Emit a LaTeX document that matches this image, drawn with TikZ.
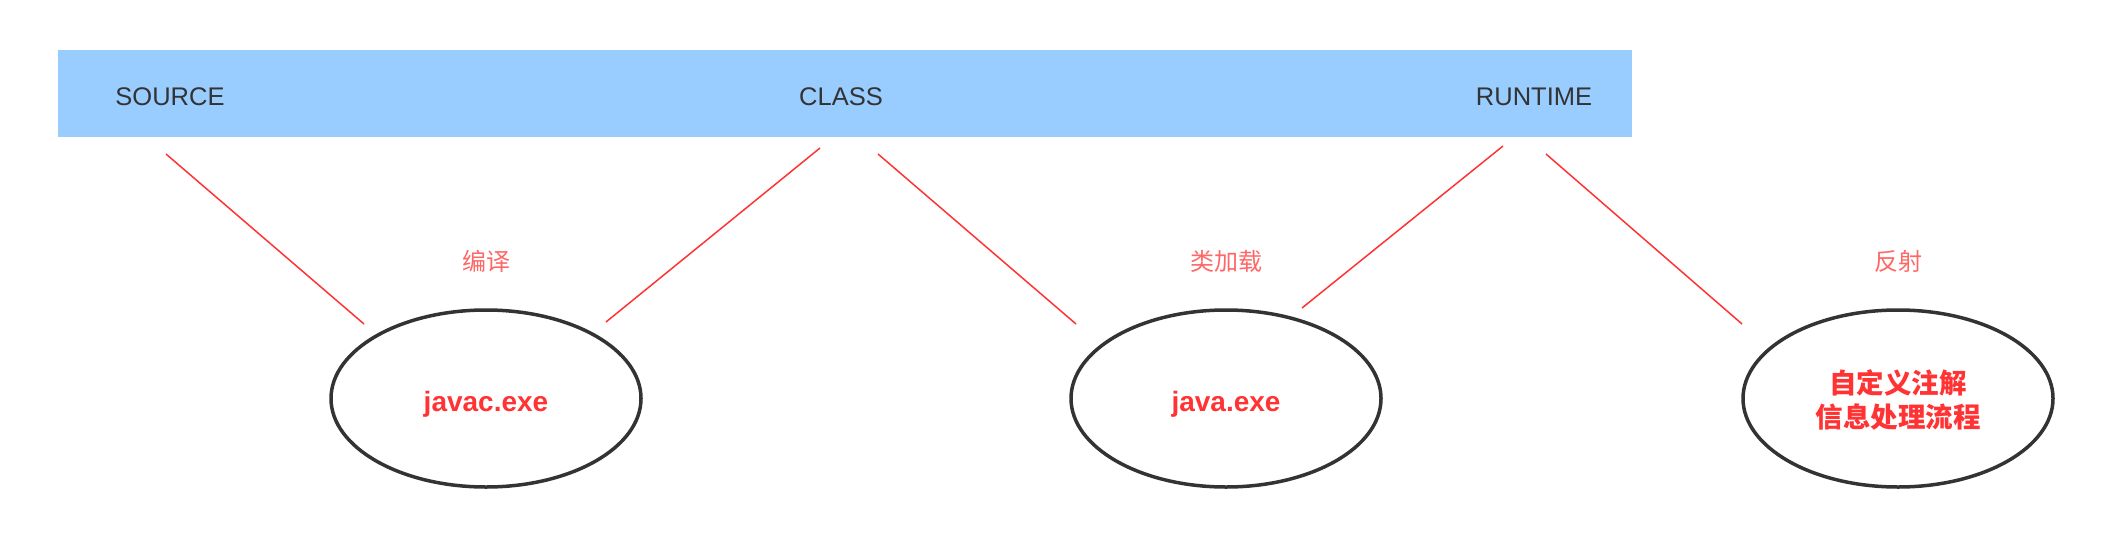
\documentclass[tikz,border=0pt]{standalone}
\usepackage{fontspec}
\setmainfont{Liberation Sans}
\newfontfamily\cjk{Noto Sans CJK SC}
\usetikzlibrary{shapes.geometric}
\definecolor{barblue}{HTML}{99CCFF}
\definecolor{txtgray}{HTML}{333333}
\definecolor{redtxt}{HTML}{FF3333}
\definecolor{redlbl}{HTML}{FF6666}
\definecolor{redline}{HTML}{FF3333}
\definecolor{ringgray}{HTML}{333333}
\tikzset{
  phase/.style={inner sep=0pt, text=txtgray, font=\fontsize{25.5}{30}\selectfont},
  tool/.style={ellipse, draw=ringgray, line width=3.5pt, minimum width=310pt, minimum height=177pt, inner sep=0pt, align=center},
  tooltxt/.style={inner sep=0pt, text=redtxt, font=\fontsize{28}{34}\selectfont\bfseries, align=center},
  stage/.style={inner sep=0pt, text=redlbl, font=\cjk\fontsize{24}{28}\selectfont},
  link/.style={draw=redline, line width=1.5pt}
}
\begin{document}
\begin{tikzpicture}[x=1pt,y=-1pt]
\useasboundingbox (0,0) rectangle (2108,538);
% bar
\node[fill=barblue, inner sep=0pt, minimum width=1574pt, minimum height=87pt, anchor=north west] (bar) at (58,50) {};
\node[phase] (source) at (170,97) {SOURCE};
\node[phase] (class) at (841,97) {CLASS};
\node[phase] (runtime) at (1534,97) {RUNTIME};
% ellipses
\node[tool] (javac) at (486,398.5) {};
\node[tool] (java) at (1226,398.5) {};
\node[tool] (proc) at (1898,398.5) {};
\node[tooltxt, anchor=base] (javactxt) at (486,411) {javac.exe};
\node[tooltxt, anchor=base] (javatxt) at (1226,411) {java.exe};
\node[tooltxt, font=\cjk\fontsize{27.5}{34}\selectfont\bfseries] (proctxt) at (1898,400) {自定义注解\\信息处理流程};
% stage labels
\node[stage] (compile) at (486,261) {编译};
\node[stage] (load) at (1226,261) {类加载};
\node[stage] (reflect) at (1898,261) {反射};
% connectors
\coordinate (a1) at (166,154);  \coordinate (a2) at (364,324);
\coordinate (b1) at (606,322);  \coordinate (b2) at (820,148);
\coordinate (c1) at (878,154);  \coordinate (c2) at (1076,324);
\coordinate (d1) at (1302,308); \coordinate (d2) at (1503,146);
\coordinate (e1) at (1546,154); \coordinate (e2) at (1742,324);
\draw[link] (a1) -- (a2);
\draw[link] (b1) -- (b2);
\draw[link] (c1) -- (c2);
\draw[link] (d1) -- (d2);
\draw[link] (e1) -- (e2);
\end{tikzpicture}
\end{document}
